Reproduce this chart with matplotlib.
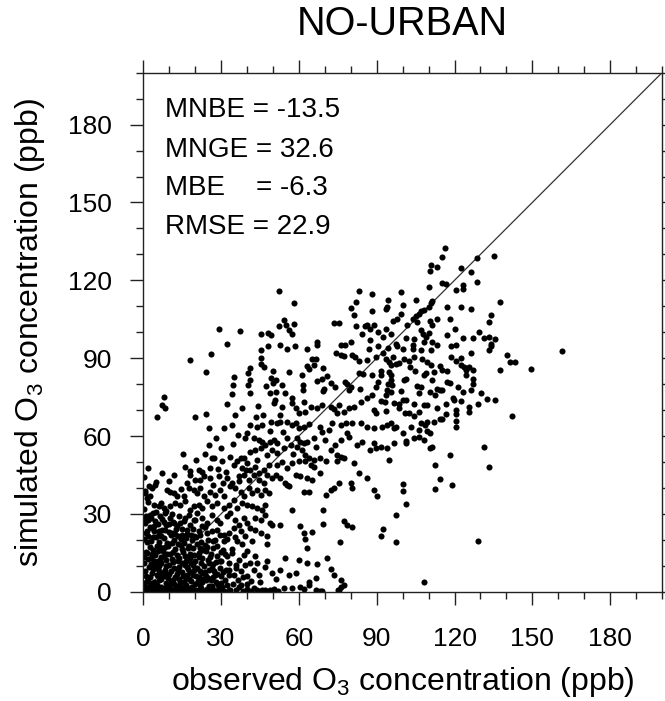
import matplotlib
matplotlib.use("Agg")
import matplotlib.pyplot as plt
from matplotlib.ticker import MultipleLocator
import numpy as np

plt.rcParams['font.family'] = ['Liberation Sans', 'DejaVu Sans']
plt.rcParams['mathtext.fontset'] = 'custom'
plt.rcParams['mathtext.rm'] = 'Liberation Sans'
plt.rcParams['mathtext.it'] = 'Liberation Sans:italic'

title = "NO-URBAN"
xlabel = r"observed O$_{\mathrm{3}}$ concentration (ppb)"
ylabel = r"simulated O$_{\mathrm{3}}$ concentration (ppb)"
stats_names = ["MNBE", "MNGE", "MBE   ", "RMSE"]
stats_values = ["-13.5", "32.6", "-6.3", "22.9"]
x_ticks = [0, 30, 60, 90, 120, 150, 180]
y_ticks = [0, 30, 60, 90, 120, 150, 180]

# (observed, simulated) pairs
pts_upper = [
    (52.3,115.8),(58.2,111.1),(83.3,115.8),(88.3,114.9),(99.4,115.3),(94.3,112.6),(82.2,111.8),
    (80.2,109.3),(81.3,106.5),(88.3,108.3),(94.1,109.7),(93.6,108.8),(100.1,110.6),(99.2,107.1),
    (97.9,105.2),(96.3,104.2),(29.2,101.3),(37.2,100.6),(32.2,95.3),(18.1,89.3),(26.1,91.5),
    (24.1,84.7),(54.2,104.8),(52.3,102.2),(55.2,102.6),(56.1,100.7),(57.4,99.4),(58.2,103.1),
    (45.2,99.4),(48.1,99.7),(49.3,98.8),(45.2,93.3),(48.1,94.6),(52.9,94.9),(55.5,93.7),
    (58.3,94.7),(45.2,90.1),(45.4,87.9),(46.5,86.4),(41.3,86.2),(40.3,84.3),(41.3,81.5),
    (35.1,82.7),(34.4,79.8),(40.3,79.5),(34.2,76.3),(41.3,76.4),(47.2,79.2),(50.1,85.0),
    (49.3,82.2),(50.1,80.5),(51.0,81.5),(53.5,79.6),(49.0,76.4),(51.0,77.0),(56.1,84.5),
    (63.2,93.7),(67.1,96.2),(67.1,94.9),(73.5,103.6),(75.4,103.6),(76.4,95.2),(77.6,95.2),
    (74.4,92.1),(76.4,91.1),(77.3,90.9),(80.2,96.2),(80.4,91.1),(81.8,90.5),(83.3,88.8),
    (82.2,102.4),(85.3,102.4),(86.4,102.9),(88.9,102.9),(84.4,99.4),(87.6,101.3),(90.5,100.1),
    (92.4,98.3),(93.4,101.3),(95.4,99.4),(87.3,96.9),(87.0,93.7),(90.5,94.6),(94.3,93.9),
    (97.3,95.6),(97.9,94.7),(86.4,89.2),(89.6,90.5),(92.4,91.8),(93.7,89.8),(96.3,90.5),
    (94.7,88.6),(95.6,87.3),(97.3,87.6),(98.6,88.2),(100.5,89.8),(63.2,87.0),(64.9,89.6),
    (65.8,87.3),(66.4,89.6),(63.8,85.7),(69.4,86.2),(70.9,83.2),(69.0,82.1),(67.1,81.3),
    (61.3,83.4),(61.5,79.6),(61.4,77.7),(61.9,73.2),(57.4,74.7),(54.8,76.4),(50.6,73.8),
    (50.3,72.6),(69.6,78.3),(69.4,77.3),(72.5,80.6),(74.1,79.0),(77.6,80.9),(78.6,80.2),
    (80.2,79.0),(79.3,77.7),(83.1,84.1),(84.8,83.7),(88.3,83.4),(91.5,85.0),(91.5,83.4),
    (94.7,84.7),(95.6,83.4),(95.4,81.5),(94.3,80.2),(96.0,79.6),(94.1,77.7),(95.4,76.8),
    (93.4,75.8),(90.5,81.0),(89.6,79.0),(88.0,75.8),(86.4,74.5),(91.5,73.4),(93.2,73.2),
    (96.6,72.6),(98.6,72.2),(99.5,77.3),(100.3,73.8),(100.5,81.5),(83.4,78.1),(83.8,73.2),
    (81.2,71.3),(75.4,71.9),(72.2,71.3),(69.0,71.9),(67.1,70.6),(64.5,71.3),(62.5,69.4),
    (60.0,68.7),(57.4,72.6),(58.7,70.6),(53.5,71.3),(44.1,71.7),(38.1,70.6),(32.3,72.3),
    (24.2,68.3),(20.1,67.2),(5.3,67.4),(7.2,71.9),(8.1,75.1),(8.2,70.9),(35.3,68.1),
    (43.6,67.4),(46.2,68.1),(52.9,68.1),(73.5,70.4),(74.8,68.7),(77.3,69.4),(79.3,70.6),
    (88.9,70.0),(89.9,68.7),(93.4,69.6),(98.6,70.6),(100.9,68.7),
]

pts_right = [
    (116.3,132.3),(115.3,129.1),(111.1,126.0),(113.4,125.0),(110.4,123.4),(128.6,128.5),
    (135.4,129.4),(122.4,124.6),(126.3,123.1),(128.5,119.3),(110.2,117.6),(115.3,119.0),
    (116.6,118.6),(120.5,116.4),(123.3,118.0),(123.3,116.7),(105.3,112.6),(111.5,112.2),
    (110.8,111.3),(110.2,109.7),(137.5,111.8),(117.2,109.7),(122.4,109.7),(126.5,108.8),
    (107.2,108.0),(108.2,108.4),(106.3,107.1),(105.0,106.2),(104.1,105.2),(113.4,105.2),
    (118.3,105.2),(134.2,106.5),(133.3,103.9),(101.8,102.6),(105.7,103.9),(110.5,104.2),
    (111.2,102.6),(120.2,101.1),(106.9,100.7),(107.8,99.4),(108.9,98.1),(110.2,99.8),
    (117.2,98.8),(123.3,97.8),(127.3,97.8),(129.5,100.1),(131.4,97.8),(133.3,98.1),
    (135.5,97.5),(134.2,95.6),(134.0,94.7),(133.3,93.0),(101.4,97.8),(104.4,97.5),
    (111.5,96.2),(113.4,95.2),(103.8,94.9),(108.2,96.2),(118.5,94.7),(120.5,94.9),
    (100.3,93.4),(103.8,93.4),(107.2,93.0),(111.1,93.0),(126.3,92.0),(104.4,90.5),
    (107.6,89.8),(118.5,90.5),(120.5,88.8),(122.4,90.1),(140.4,91.1),(141.4,88.6),
    (143.4,88.6),(161.4,92.6),(149.4,85.7),(137.5,85.3),(102.4,88.8),(103.0,86.6),
    (109.5,88.6),(111.1,87.3),(114.4,86.9),(115.3,85.3),(117.2,84.9),(122.4,87.5),
    (123.7,86.6),(125.6,86.6),(124.3,85.3),(127.3,85.5),(104.6,85.0),(112.1,84.7),
    (108.2,83.4),(108.9,84.1),(111.5,81.5),(124.3,83.4),(127.3,81.9),(127.3,80.2),
    (117.2,80.9),(118.3,80.6),(101.2,81.8),(105.6,79.2),(106.9,78.7),(113.4,78.3),
    (114.4,77.7),(115.3,77.7),(121.5,78.7),(123.3,77.0),(126.3,77.7),(130.4,76.4),
    (106.3,76.4),(110.5,76.8),(112.4,75.8),(119.6,74.5),(119.8,73.7),(122.4,73.4),
    (132.4,74.2),(135.5,73.7),(101.2,73.8),(104.4,72.3),(108.2,71.9),(109.2,71.9),
    (113.4,70.6),(116.6,72.2),(120.5,70.2),(125.6,71.3),(129.2,72.2),(102.4,68.7),
    (106.3,69.1),(104.4,67.8),(116.6,68.5),(120.5,68.3),(125.6,69.1),(142.3,67.7),
    (120.5,65.8),(120.5,63.6),(100.3,61.0),(101.2,58.1),(101.2,57.2),(103.3,63.6),
    (104.4,59.1),(106.3,62.3),(106.3,59.8),(107.2,64.9),(108.5,64.2),(108.2,58.5),
    (109.3,65.5),(109.3,61.9),(110.4,61.0),(110.5,55.5),(111.4,55.9),(112.1,65.5),
    (114.4,66.4),(115.3,66.4),(118.3,52.5),(131.4,55.9),(112.4,48.9),(114.4,43.5),
    (133.3,47.9),(100.3,41.5),(100.3,38.9),(112.4,39.7),(119.2,41.2),(101.2,33.9),
    (129.2,19.4),(108.2,3.6),
]

pts_mid = [
    (25.2,63.0),(31.3,63.2),(34.2,64.2),(40.0,61.0),(41.3,64.2),(43.9,63.6),(45.8,64.2),
    (49.3,65.5),(51.6,64.9),(52.9,65.5),(55.5,65.5),(57.4,64.2),(58.7,64.9),(60.0,63.0),
    (61.9,63.6),(63.8,64.5),(68.3,63.6),(71.6,62.3),(72.8,64.9),(76.1,64.2),(78.0,64.9),
    (80.6,64.9),(83.8,64.9),(86.4,63.6),(88.9,63.0),(92.1,63.6),(94.1,64.2),(95.4,64.9),
    (96.7,63.0),(97.3,63.6),
    (25.2,56.6),(39.4,59.1),(42.6,59.1),(44.5,58.5),(45.8,57.8),(47.1,56.6),(49.0,57.8),
    (50.3,58.5),(51.6,57.2),(55.5,59.1),(59.3,59.1),(60.6,57.8),(61.9,57.2),(63.2,57.8),
    (65.8,59.1),(69.0,61.7),(74.1,56.6),(76.1,58.5),(79.3,59.8),(84.4,57.8),(88.9,57.2),
    (89.6,55.3),(91.5,55.9),(94.1,55.3),(96.7,57.2),
    (26.5,51.4),(27.2,51.7),(38.7,51.4),(41.3,54.0),(43.2,54.6),(45.2,55.3),(47.7,52.7),
    (49.7,54.6),(51.6,53.4),(54.2,55.3),(56.8,56.6),(59.3,55.9),(61.3,54.6),(62.5,52.7),
    (63.8,51.4),(65.8,50.8),(68.3,51.4),(72.2,54.6),(74.8,52.7),(76.1,52.1),(77.3,51.4),
    (87.6,54.6),(94.7,50.8),
    (16.2,47.9),(18.1,46.6),(21.4,47.0),(22.7,46.3),(25.9,47.6),(30.4,50.2),(33.3,52.1),
    (36.2,50.2),(37.5,51.4),(38.1,47.6),(40.0,49.5),(41.3,47.0),(43.2,48.2),(44.5,45.7),
    (46.5,47.0),(48.4,48.9),(51.6,48.9),(55.5,47.6),(57.4,49.5),(60.0,50.2),(62.5,50.2),
    (64.5,48.9),(65.8,48.2),(70.3,50.2),(74.8,50.2),(81.2,49.5),(83.1,45.7),(86.4,43.8),
    (7.2,45.7),(5.0,42.2),(16.9,41.8),(18.1,45.0),(20.1,43.1),(22.0,43.1),(23.3,44.4),
    (25.9,43.8),(29.1,44.4),(32.3,43.8),(34.2,41.8),(36.8,44.4),(38.7,45.0),(40.7,43.1),
    (42.6,45.0),(44.5,43.1),(46.5,41.8),(47.7,45.0),(49.7,43.8),(51.0,45.0),(52.9,43.8),
    (54.8,41.8),(56.1,40.6),(58.7,45.0),(60.6,44.4),(63.2,43.8),(65.1,43.1),(68.3,45.7),
    (75.4,41.8),(79.9,41.8),(80.6,39.9),(88.9,39.3),(90.2,36.7),
    (0.8,38.0),(2.1,40.6),(3.3,39.9),(9.1,39.3),(10.4,38.6),(11.7,38.0),(13.0,36.7),
    (15.6,36.7),(17.5,39.9),(19.4,39.3),(20.7,38.0),(22.0,39.9),(23.3,36.7),(25.9,38.6),
    (27.8,37.4),(29.7,39.3),(31.0,36.7),(33.6,40.6),(35.5,39.9),(37.5,38.6),(38.7,36.7),
    (40.7,39.9),(42.0,38.0),(43.9,39.3),(45.2,37.4),(47.1,39.3),(48.4,38.0),(55.5,41.2),
    (61.9,38.6),(63.8,38.6),(70.3,37.4),(72.2,39.3),(73.5,39.9),
    (1.4,36.1),(4.0,33.5),(5.9,32.9),(7.9,32.2),(10.4,32.9),(12.4,34.2),(14.3,33.5),
    (16.2,34.8),(18.1,31.6),(19.4,32.9),(21.4,33.5),(22.7,32.2),(24.6,34.8),(26.5,32.9),
    (28.4,34.2),(31.0,32.2),(32.9,33.5),(34.9,35.4),(36.2,32.2),(38.1,34.2),(40.0,33.5),
    (42.0,32.9),(43.9,32.2),(45.8,31.6),(47.1,33.5),(57.4,31.6),(69.4,31.6),
    (0.8,28.4),(2.7,29.7),(4.6,27.1),(6.6,29.0),(8.5,30.3),(10.4,28.4),(11.7,26.5),
    (13.6,29.0),(15.6,27.1),(17.5,29.7),(19.4,27.8),(20.7,30.3),(22.7,28.4),(24.6,26.5),
    (26.5,29.7),(28.4,27.8),(29.7,26.5),(32.3,29.0),(33.6,30.3),(35.5,27.8),(36.8,25.8),
    (38.7,28.4),(40.0,26.5),(43.2,28.4),(45.2,27.8),(47.1,29.7),(49.0,26.5),(49.7,25.8),
    (52.9,25.8),(60.4,25.2),(69.4,26.1),(77.3,27.1),(78.6,25.8),(80.6,24.8),(97.3,29.7),
    (28.9,47.2),(31.8,46.1),(35.0,48.8),(20.3,50.6),(23.9,53.2),(30.0,55.4),(34.6,57.0),
    (36.5,60.2),(28.1,59.4),(15.2,52.9),(12.0,44.8),(10.1,42.6),(14.7,39.6),(27.0,41.3),
    (30.9,41.9),(37.0,42.5),(39.6,46.8),(44.0,50.8),(53.4,50.1),(57.9,53.0),(48.9,61.8),
    (54.0,61.6),(66.6,55.9),(70.0,58.4),(78.4,61.3),(82.5,56.5),
]

pts_low = [
    (1.4,23.3),(4.0,25.2),(5.9,22.0),(8.5,23.9),(11.1,22.6),(13.0,25.2),(14.9,22.0),
    (16.9,23.9),(19.4,21.4),(21.4,23.3),(22.7,25.2),(24.6,22.6),(26.5,23.3),(28.4,23.9),
    (31.0,22.0),(32.9,22.6),(34.9,24.6),(37.5,23.3),(39.4,21.4),(41.3,24.6),(43.2,23.9),
    (45.2,22.6),(47.7,21.4),(61.9,22.6),(65.1,23.0),(75.8,19.2),(91.5,21.4),(92.4,24.3),
    (97.3,19.1),
    (28.4,17.5),(31.0,19.4),(34.2,16.3),(36.2,19.4),(38.1,18.2),(40.0,15.6),(42.0,19.4),
    (47.7,18.4),(62.5,20.5),(63.2,16.9),
    (29.7,11.8),(32.3,13.7),(34.2,15.0),(36.8,12.4),(38.7,14.3),(43.2,13.7),(43.9,11.1),
    (47.7,11.8),(54.8,13.1),(60.0,12.4),(63.2,11.1),(67.1,10.5),(70.9,13.1),
    (32.9,8.4),(34.9,6.5),(37.5,7.8),(40.0,5.9),(42.6,8.4),(44.5,6.5),(49.7,7.1),
    (52.9,8.4),(56.1,6.5),(58.7,7.1),(63.8,3.9),(66.4,5.2),(72.2,8.7),(73.5,6.5),(76.1,4.6),
    (33.6,0.7),(37.5,2.7),(42.6,1.4),(45.8,0.7),(49.0,0.7),(54.2,1.4),(60.6,2.0),
    (66.4,0.7),(68.3,0.3),(75.4,0.7),(76.1,2.0),(77.3,2.7),
    (30.6,15.9),(33.1,11.0),(35.8,9.3),(39.3,10.2),(41.7,4.0),(45.1,3.6),(46.9,9.7),
    (51.2,4.8),(36.4,4.4),(32.4,20.3),(35.5,21.1),(26.9,19.6),(29.4,21.7),(39.9,2.9),
]

pts_blob = [
    (0.5,0.3),(1.2,0.8),(2.0,0.2),(3.1,1.1),(4.0,0.4),(4.8,1.6),(5.7,0.3),(6.5,0.9),(7.4,0.2),
    (8.3,1.3),(9.1,0.5),(10.0,0.2),(10.8,1.0),(11.7,0.4),(12.5,1.8),(13.4,0.3),(14.2,0.9),
    (15.1,0.2),(16.0,1.4),(16.9,0.5),(17.7,0.2),(18.6,1.1),(19.5,0.3),(20.3,0.8),(21.2,0.2),
    (22.1,1.5),(23.0,0.4),(23.8,0.2),(24.7,1.0),(25.6,0.3),(26.5,2.1),(27.3,0.5),(28.2,0.2),
    (29.1,1.2),(30.0,0.4),(31.0,0.2),(32.1,2.5),(12.0,2.9),(3.5,2.7),(8.8,3.4),(19.8,3.0),
    (27.9,3.9),(31.5,4.6),(24.0,4.4),
    (0.9,2.0),(2.4,3.3),(5.1,2.4),(6.0,4.6),(7.0,1.9),(9.8,2.6),(10.5,4.0),(13.1,2.2),
    (15.6,3.6),(16.3,2.4),(17.5,4.9),(18.9,2.0),(20.9,4.2),(21.9,2.7),(22.6,3.6),(25.2,2.3),
    (26.1,4.7),(28.8,2.5),(29.8,3.2),(30.5,1.8),(33.0,0.5),(34.5,3.0),(35.9,0.6),(37.0,1.9),
    (38.5,0.3),(40.1,1.0),(41.5,0.4),(43.9,0.8),(47.0,0.5),(50.5,0.9),(52.0,0.3),(57.5,1.4),
    (61.8,0.9),(64.0,2.6),(68.8,0.4),(75.0,0.8),
    (0.3,3.5),(1.5,4.2),(2.6,5.8),(4.2,3.9),(5.3,6.4),(6.9,4.8),(7.8,7.5),(9.5,5.3),
    (10.6,8.1),(11.3,4.6),(12.9,6.9),(14.0,3.8),(14.8,7.7),(16.4,5.1),(17.3,8.6),(18.2,4.3),
    (19.1,6.6),(20.8,9.2),(21.6,5.5),(22.8,7.2),(24.3,6.1),(25.5,8.4),(26.9,5.7),(28.6,7.0),
    (0.8,7.9),(2.2,9.4),(3.9,8.7),(6.1,9.8),(8.7,9.9),(13.7,9.6),(15.9,10.3),(23.5,9.8),
    (27.0,10.6),(29.4,9.0),(30.8,7.7),
    (1.1,6.2),(3.3,7.1),(4.7,9.0),(5.9,7.9),(7.2,6.0),(8.2,8.5),(9.9,7.0),(11.9,9.3),
    (12.4,5.5),(13.3,8.0),(15.3,6.2),(16.7,9.5),(18.0,7.4),(19.7,8.2),(20.4,5.9),(21.8,7.9),
    (22.2,10.9),(23.9,7.5),(25.0,5.3),(26.3,9.1),(27.7,6.5),(28.0,11.3),(30.1,6.0),(31.9,8.3),
    (33.2,6.4),(35.7,10.1),(38.3,5.8),(41.0,11.0),
    (0.4,11.2),(1.8,12.6),(3.0,10.8),(4.4,14.1),(5.5,11.9),(6.7,13.4),(7.6,15.8),(8.9,12.2),
    (10.2,14.7),(11.5,11.4),(12.3,16.5),(13.9,13.1),(15.2,15.2),(16.6,12.0),(17.9,14.4),
    (19.0,16.9),(20.1,11.7),(21.3,14.9),(22.5,12.8),(24.2,15.6),(25.8,13.3),(26.9,16.8),
    (0.9,15.4),(2.5,17.2),(3.6,16.0),(5.1,17.8),(9.7,17.6),(14.6,17.9),(18.4,10.9),(23.6,18.0),
    (1.3,19.0),
    (0.2,13.5),(1.5,14.8),(2.8,13.0),(4.0,12.0),(5.8,15.7),(6.3,12.4),(7.9,13.9),(8.5,17.1),
    (9.2,14.5),(10.9,12.7),(11.1,18.6),(12.9,14.2),(13.5,12.0),(14.9,16.4),(16.2,13.9),
    (17.1,16.9),(18.0,12.8),(19.6,14.0),(20.8,18.2),(21.6,13.3),(22.9,16.1),(24.8,12.3),
    (26.2,14.6),(28.3,13.7),(29.8,15.4),(31.4,14.6),
    (0.2,20.3),(1.0,22.8),(2.9,19.6),(3.4,24.5),(4.9,21.1),(6.2,19.2),(7.1,23.7),(8.0,20.6),
    (9.3,18.8),(10.7,21.9),(11.9,19.8),(12.7,24.0),(14.4,20.4),(15.7,18.6),(17.0,22.3),
    (18.8,19.9),(20.4,20.9),(22.3,19.3),(25.0,20.1),(27.6,19.8),(0.6,26.3),(2.0,27.5),
    (5.6,25.9),(7.3,27.9),(9.8,26.2),(17.9,25.8),(3.8,30.5),(0.4,32.0),(1.9,34.5),
    (1.7,21.4),(2.4,25.0),(4.3,23.3),(6.8,21.6),(8.6,25.6),(10.0,23.0),(11.4,26.8),(13.2,21.3),
    (15.0,24.3),(16.4,20.7),(19.0,24.1),(20.0,27.5),(22.0,21.9),(23.7,24.8),(0.9,29.3),
    (3.1,28.3),(5.0,30.6),(6.9,34.0),(8.9,31.2),(2.7,36.9),(0.5,38.9),(4.4,41.3),(0.3,44.2),
    (1.8,47.5),
    (2.2,1.6),(6.2,1.2),(9.5,1.1),(14.6,1.7),(18.0,1.6),(21.7,1.2),(25.9,1.5),(29.4,2.0),
    (1.8,5.2),(8.4,5.9),(13.6,5.0),(17.0,6.6),(23.2,5.0),(27.3,8.1),(29.9,11.9),
    (4.5,10.5),(7.0,11.1),(10.0,10.4),(14.9,11.0),(19.3,10.1),(25.2,11.0),(3.2,14.5),
    (11.4,15.4),(17.5,17.6),(21.9,16.9),(6.3,17.4),(13.4,18.4),(24.5,17.4),(5.9,23.2),
    (12.3,22.1),(18.2,21.7),(3.7,20.9),(8.0,27.0),(14.1,26.4),(16.1,28.4),(11.0,30.0),
]

all_pts = np.array(pts_upper + pts_right + pts_mid + pts_low + pts_blob)
obs = all_pts[:, 0]
sim = all_pts[:, 1]

W, H = 665, 701
fig = plt.figure(figsize=(W / 100, H / 100), dpi=100)
L, R, T, B = 143.3, 662.0, 72.7, 591.7
ax = fig.add_axes([L / W, 1 - B / H, (R - L) / W, (B - T) / H])

ax.plot([0, 200], [0, 200], color='#333333', lw=0.9, zorder=1)
ax.plot(obs, sim, 'o', color='black', markersize=4.4, markeredgewidth=0, zorder=2)

ax.set_xlim(0, 200)
ax.set_ylim(0, 200)
ax.set_xticks(x_ticks)
ax.set_yticks(y_ticks)
ax.set_xticklabels([str(v) for v in x_ticks])
ax.set_yticklabels([str(v) for v in y_ticks])
ax.xaxis.set_minor_locator(MultipleLocator(10))
ax.yaxis.set_minor_locator(MultipleLocator(10))
ax.tick_params(which='both', direction='out', top=True, right=True, width=1.0, color='#222222')
ax.tick_params(which='major', length=9.7)
ax.tick_params(which='minor', length=5.0)
ax.tick_params(axis='x', which='major', labelsize=19, pad=15.5)
ax.tick_params(axis='y', which='major', labelsize=19, pad=13.0)
for s in ax.spines.values():
    s.set_linewidth(1.0)
    s.set_color('#222222')

fig.text(402.5 / W, 1 - 35 / H, title, ha='center', va='baseline', fontsize=28.5)
fig.text(402.5 / W, 1 - 690 / H, xlabel, ha='center', va='baseline', fontsize=23)
fig.text(30 / W, 1 - 332 / H, ylabel, ha='center', va='center', rotation=90, fontsize=23)

base_px = [117.3, 156.7, 195.0, 234.0]
for name, val, bp in zip(stats_names, stats_values, base_px):
    fig.text(165 / W, 1 - bp / H, f"{name} = {val}", ha='left', va='baseline', fontsize=20)

fig.savefig("out.png", dpi=100)
